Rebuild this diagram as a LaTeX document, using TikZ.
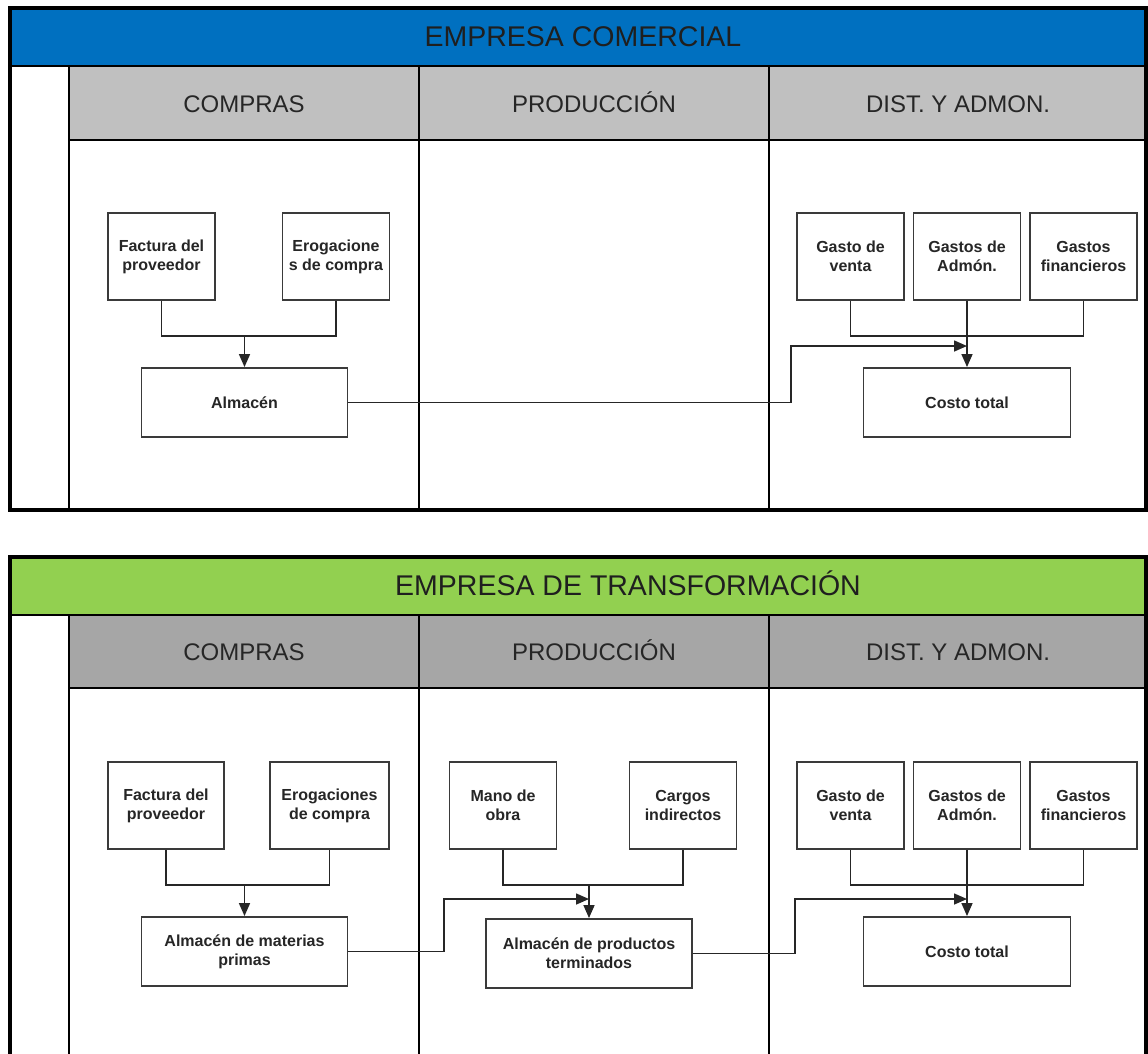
\documentclass[tikz,border=0pt]{standalone}
\usepackage{fontspec}
\setmainfont{Liberation Sans}
\usetikzlibrary{arrows.meta}
\definecolor{bandblue}{HTML}{0070C0}
\definecolor{bandgreen}{HTML}{92D050}
\definecolor{hdrlight}{HTML}{C0C0C0}
\definecolor{hdrdark}{HTML}{A6A6A6}
\definecolor{boxline}{HTML}{3A3A3A}

\begin{document}
\begin{tikzpicture}[x=1pt,y=-1pt,
  frame/.style={line width=3.2pt, draw=black},
  divider/.style={line width=2.6pt, draw=black},
  titletext/.style={anchor=base, font=\fontsize{28.5}{30}\selectfont, text=black!88},
  lanetext/.style={anchor=base, font=\fontsize{24}{26}\selectfont, text=black!85},
  stepbox/.style={draw=boxline, line width=1.9pt, fill=white, align=center,
    font=\bfseries\fontsize{16}{19}\selectfont, text=black!85, inner sep=0pt},
  smallbox/.style={stepbox, minimum width=107pt, minimum height=87pt},
  widebox/.style={stepbox, minimum width=206pt, minimum height=69pt},
  link/.style={line width=1.6pt, draw=black!85},
  flow/.style={link, -{Triangle[length=13pt,width=11pt]}},
]
\useasboundingbox (0,0) rectangle (1148,1053);
\clip (0,0) rectangle (1148,1053);

% ---------------- Empresa comercial ----------------
\fill[bandblue] (10,8) rectangle (1146,66);
\fill[hdrlight] (69,66) rectangle (1146,140);
\draw[divider] (10,66) -- (1146,66);
\draw[divider] (69,140) -- (1146,140);
\foreach \xx in {69,419,769} \draw[divider] (\xx,66) -- (\xx,510);
\draw[frame] (10,8) rectangle (1146,510);

\node[titletext] (title1) at (583,46) {EMPRESA COMERCIAL};
\node[lanetext] (compras1) at (244,112) {COMPRAS};
\node[lanetext] (produccion1) at (594,112) {PRODUCCIÓN};
\node[lanetext] (dist1) at (958,112) {DIST. Y ADMON.};

\node[smallbox] (fac1) at (161.5,256.5) {Factura del\\proveedor};
\node[smallbox] (ero1) at (336,256.5) {Erogacione\\s de compra};
\node[widebox] (alm1) at (244.5,402.5) {Almacén};
\node[smallbox] (ven1) at (850.5,256.5) {Gasto de\\venta};
\node[smallbox] (adm1) at (967,256.5) {Gastos de\\Admón.};
\node[smallbox] (fin1) at (1083.5,256.5) {Gastos\\financieros};
\node[stepbox, minimum width=207pt, minimum height=69pt] (ct1) at (967,402.5) {Costo total};

\draw[link] (fac1.south) -- ++(0,35) -| (ero1.south);
\coordinate (j1) at (244.5,335);
\draw[flow] (j1) -- (alm1.north);
\draw[link] (ven1.south) -- ++(0,35) -| (fin1.south);
\draw[flow] (adm1.south) -- (ct1.north);
\coordinate (in1) at (967,346);
\draw[flow] (alm1.east) -- (791,402.5) |- (in1);

% ---------------- Empresa de transformación ----------------
\fill[bandgreen] (10,557) rectangle (1146,615);
\fill[hdrdark] (69,615) rectangle (1146,688);
\draw[divider] (10,615) -- (1146,615);
\draw[divider] (69,688) -- (1146,688);
\foreach \xx in {69,419,769} \draw[divider] (\xx,615) -- (\xx,1070);
\draw[frame] (10,557) rectangle (1146,1070);

\node[titletext] (title2) at (628,595) {EMPRESA DE TRANSFORMACIÓN};
\node[lanetext] (compras2) at (244,660) {COMPRAS};
\node[lanetext] (produccion2) at (594,660) {PRODUCCIÓN};
\node[lanetext] (dist2) at (958,660) {DIST. Y ADMON.};

\node[stepbox, minimum width=116pt, minimum height=87pt] (fac2) at (166,805.5) {Factura del\\proveedor};
\node[stepbox, minimum width=119pt, minimum height=87pt] (ero2) at (329.5,805.5) {Erogaciones\\de compra};
\node[widebox] (amp) at (244.5,951.5) {Almacén de materias\\primas};
\node[smallbox] (mano) at (503,805.5) {Mano de\\obra};
\node[smallbox] (carg) at (683,805.5) {Cargos\\indirectos};
\node[widebox] (apt) at (589,953.5) {Almacén de productos\\terminados};
\node[smallbox] (ven2) at (850.5,805.5) {Gasto de\\venta};
\node[smallbox] (adm2) at (967,805.5) {Gastos de\\Admón.};
\node[smallbox] (fin2) at (1083.5,805.5) {Gastos\\financieros};
\node[stepbox, minimum width=207pt, minimum height=69pt] (ct2) at (967,951.5) {Costo total};

\draw[link] (fac2.south) -- ++(0,35) -| (ero2.south);
\coordinate (j2) at (244.5,884);
\draw[flow] (j2) -- (amp.north);
\draw[link] (mano.south) -- ++(0,35) -| (carg.south);
\coordinate (j3) at (589,884);
\draw[flow] (j3) -- (apt.north);
\draw[link] (ven2.south) -- ++(0,35) -| (fin2.south);
\draw[flow] (adm2.south) -- (ct2.north);
\coordinate (in2) at (589,899);
\draw[flow] (amp.east) -- (444,951.5) |- (in2);
\coordinate (in3) at (967,899);
\draw[flow] (apt.east) -- (795,953.5) |- (in3);
\end{tikzpicture}
\end{document}
